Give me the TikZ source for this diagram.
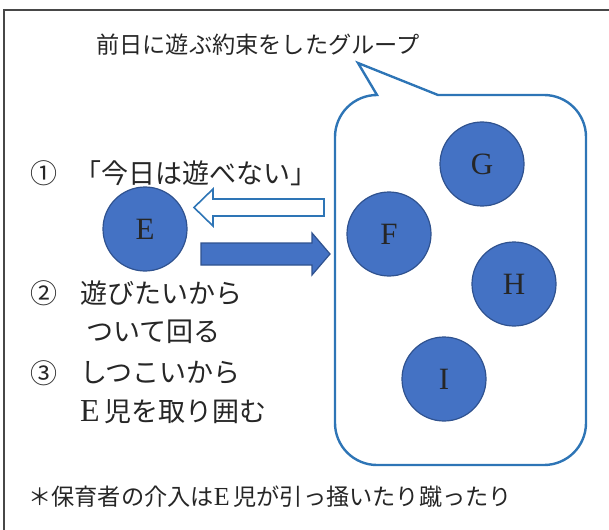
\documentclass[tikz,border=0pt]{standalone}
\usepackage{fontspec}
\newfontfamily\jp{Noto Sans CJK JP}
\newfontfamily\ser{Liberation Serif}
\definecolor{cfill}{HTML}{4472C4}
\definecolor{cedge}{HTML}{2F528F}
\definecolor{cline}{HTML}{2E75B6}
\definecolor{ctext}{HTML}{262626}
\begin{document}
\begin{tikzpicture}[x=1pt,y=-1pt,
  jptext/.style={font=\jp\fontsize{23.2}{27}\selectfont, text=ctext, inner sep=0pt},
  jpbig/.style={font=\jp\fontsize{27}{32}\selectfont, text=ctext, inner sep=0pt},
  pers/.style={circle, minimum size=84pt, fill=cfill, draw=cedge, line width=1.2pt,
    font=\ser\fontsize{31}{36}\selectfont, text=ctext, inner sep=0pt},
  callout/.style={draw=cline, line width=2.4pt, line join=miter},
  hollowarrow/.style={draw=cline, line width=1.6pt, fill=white},
  fullarrow/.style={draw=cedge, line width=1.2pt, fill=cfill}]
\useasboundingbox (0,0) rectangle (609,529);
% frame
\draw[color=ctext!85, line width=1.3pt] (4,535) -- (4,10) -- (615,10);
% title
\node[jptext] (title) at (258,45) {前日に遊ぶ約束をしたグループ};
% callout
\draw[callout] (377,95) -- (358,63) -- (438,95) -- (544,95)
  .. controls (567.2,95) and (586,113.8) .. (586,137) -- (586,423)
  .. controls (586,446.2) and (567.2,465) .. (544,465) -- (377,465)
  .. controls (353.8,465) and (335,446.2) .. (335,423) -- (335,137)
  .. controls (335,113.8) and (353.8,95) .. (377,95) -- cycle;
% persons
\node[pers] (E) at (145,229) {E};
\node[pers] (F) at (389,234) {F};
\node[pers] (G) at (482,164) {G};
\node[pers] (H) at (514,284) {H};
\node[pers] (I) at (444,379) {I};
% arrows
\draw[hollowarrow] (194,207.5) -- (213,189) -- (213,199) -- (324,199) -- (324,216) -- (213,216) -- (213,226) -- cycle;
\draw[fullarrow] (201,243) -- (312,243) -- (312,233) -- (330,254) -- (312,275) -- (312,265) -- (201,265) -- cycle;
% texts
\node[jpbig] (n1) at (44,173) {①};
\node[jpbig, anchor=west] (t1) at (74,173) {「今日は遊べない」};
\node[jpbig] (n2) at (44,293) {②};
\node[jpbig, anchor=west] (t2) at (80,293) {遊びたいから};
\node[jpbig, anchor=west] (t2b) at (86,332) {ついて回る};
\node[jpbig] (n3) at (44,373) {③};
\node[jpbig, anchor=west] (t3) at (80,373) {しつこいから};
\node[jpbig, anchor=west] (t3b) at (80,412) {{\ser\fontsize{32}{36}\selectfont E}\,児を取り囲む};
\node[jptext, anchor=west] (note) at (28,497) {＊保育者の介入は{\ser\fontsize{26}{30}\selectfont E}\,児が引っ掻いたり蹴ったり};
\end{tikzpicture}
\end{document}
